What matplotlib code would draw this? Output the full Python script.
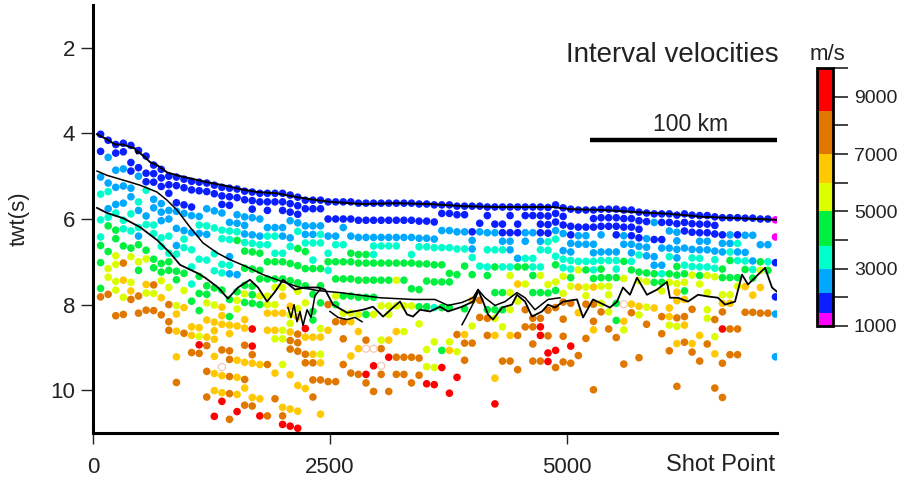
import numpy as np
import matplotlib
matplotlib.use("Agg")
import matplotlib.pyplot as plt
from matplotlib.colors import ListedColormap, BoundaryNorm
from matplotlib.cm import ScalarMappable

plt.rcParams['font.family'] = ['Liberation Sans', 'DejaVu Sans']

# ---------------- data ----------------
# velocity-analysis locations (shot points) and twt of first pick in each
shot_points = np.arange(80, 7201, 80)
column_top_twt = [
    4.02, 4.16, 4.26, 4.23, 4.28, 4.40, 4.53, 4.74, 4.84, 5.00,
    5.02, 5.07, 5.12, 5.14, 5.16, 5.21, 5.26, 5.28, 5.30, 5.35,
    5.37, 5.40, 5.40, 5.40, 5.40, 5.44, 5.49, 5.56, 5.56, 5.56,
    5.60, 5.60, 5.60, 5.60, 5.63, 5.63, 5.63, 5.63, 5.63, 5.63,
    5.63, 5.63, 5.65, 5.65, 5.67, 5.67, 5.67, 5.70, 5.70, 5.70,
    5.70, 5.72, 5.72, 5.72, 5.72, 5.72, 5.72, 5.72, 5.72, 5.73,
    5.67, 5.74, 5.77, 5.79, 5.79, 5.79, 5.77, 5.77, 5.77, 5.79,
    5.79, 5.84, 5.86, 5.88, 5.88, 5.88, 5.91, 5.88, 5.91, 5.92,
    5.92, 5.95, 5.97, 5.97, 5.97, 5.98, 5.98, 6.00, 6.00, 6.02,
]
# picks every 0.2 s below the first one; one letter per pick = velocity class
# m<1450 b<2150 l<3000 c<3800 g<5000 y<6000 o<7000 O<8500 r>8500, w = no value, . = no pick
column_codes = [
    "b.b..l.c..c.cg.g..gO", "b.l..lc.lcg..g.yy.O", "bb.l.l.lc.gg.yy.yy..O",
    "bb.l.l.l.cc.g.O.o.y.O", "b.bb.ll.c.c.gy..yoO", "b.bl..cl.clg.yg..O.O",
    "b.bbc..lc..gy..oy.O", "bbb.ll.cc..gg.Oy.O", "bbb.lll.cc.ggy.o.O",
    "bbb.ll.c.cgg.y.O.OO", "bb.bl.l.lc.gg..yo.o..o..O", "bb.bl.lcc..g.y.o..O",
    "bb.bl.l.c.c.c.g..oo.O", "bb..lcl..c.g.g.g.oyrO", "bb.l.cl..c..ggy.o.oO..O..O",
    "bb.l.c..c.c.g.y.ooo.o.o.o..r", "bbbl.cc..cc.g.ooo..O.wo.or",
    "bbb.lcc.lcl..g.goo.OO.O.O..O", "bb.llcg...l.gyy.o...o.o.o.r",
    "bb.lllcg.g.gyg.oo.O.o.Oo.O", "bbbl.lcg.g.ggg..r.rOo...oO",
    "bb.l.lcg.gg.yg......o...o.r", "bbb.lcc.g.g.yyo.o...O.....O",
    "bb..lc.cg.gy.yo.oy...o..O", "bbb.ll.cg.gyo.o.yy..y....oOr",
    "bbbl.lc.g.g..oyyoOO..o...o.r", "bbblc.g.g.gy.yo.OOO...o..o.r",
    "bb.llcg.g.g.y..ro.OO..o", "bb.llc.cg..g.gg.o.oO.O.O",
    "bb.lcc..g.g.g..yo.yo.O...o", "b.b.l.cgc...O..o.....O",
    "b.b.lc.g.g.yg.O......O", "b.bl.c.g.g.g.yO.O..O", "b.b.l.gg.g.g.yo...o.O",
    "b.b.l.gg.g.g.y.o.o..O", "b.b.l.gg.g.g.g..Ow..rO", "b.b.lccg.g.g.y...w.r..O",
    "b.b.lc.g.g..y...yO.wO", "b.b.lc.g.g..yy..o.r...O", "b.b.lc.g.y..y..o..O.O",
    "b.b.l..g.g..y..y..O.O", "b.b.l.cg..g.y.....O..O", "b.b.lc.g..g.g.y...O.O",
    "b.b.lc.g.g..g....y.y.r", "b.b.lc.g.g..c...y..y.r", "bb.l.c.g.g..g....g.r",
    "bb.l.c..gg..g...yo....r", "bb.l.c..g......O.y..r", "bb.l.c.g....g..oO.O",
    "b..bllc.g..o..y.O", "b.bl...c...O.O", "bb.l.c.cg...gO.O",
    "b.bl.c.g..g.gy.o....o..r", "b.bblc.c..g.g.y...O", "bb.bll.cy.y.y..o..O",
    "b.bb..lg.o.y...O...O", "bb.ll.cg.y..O.O", "bb.l..ccg.g..OO.O.O",
    "bbbblc.cy.g..Orr..O", "bbbbcc...yg.O..O.rr", "bbblc.cg.yg.O....r.O",
    "bbbl.lccy.yO.O.O..O", "b.bbllccgy.O....r.O", "b.bll.cy.o..o....O",
    "b.bll.cg.yyO...O", "bbb.llccgo.O.Oo......O", "bbbl.lcggy.yO",
    "bbb..lc.gyy.y.O", "bbbb.lccg..g.g.O", "bbbll.g.y..w.oy...O",
    "bbbbllcg...oO", "bbbblc.gy..oy....O", "bb.lll.gy..y.O",
    "bl.b.llgg..o", "bb.bl.lcgy..O.O", "bbl.lc.gy..ooy..O",
    "bbllllggyoo.Oy.o....O", "bbb.l.cgygo.Oo.O", "bbb.lccy...O...oO",
    "bbbllccgy.....o..O", "bbbll.cy.y.yy..O", "bbb.lccy....O.y.o...O",
    "b.bll.gg.yoO.r...O...O", "b.llcg.g.yo..O..O", "b.bclc.gy....O..O",
    "b.l.lcg.o..O", "b.l..lcg.o.O", "b..l.gy.o..O", "b..l.cg....O",
    "m.m..b...b.l....l",
]
pick_step_twt = 0.2
class_velocity = {'m': 1200, 'b': 1800, 'l': 2600, 'c': 3400, 'g': 4400,
                  'y': 5500, 'o': 6500, 'O': 7700, 'r': 9200}

vel_bounds = [1000, 1450, 2150, 3000, 3800, 5000, 6000, 7000, 8500, 10000]
vel_colors = ['#ff00ff', '#0a1eff', '#00a8ff', '#00ffcc', '#00f040',
              '#dcff00', '#ffc800', '#e07800', '#ff0000']

# horizons (shot point, twt)
seafloor_sp = [42, 148, 232, 316, 411, 443, 464, 475, 549, 601, 675, 781, 886, 1023,
               1203, 1371, 1551, 1730, 1941, 2152, 2363, 2500, 2848, 3207, 3555, 3903,
               4262, 4610, 4852, 5032, 5380, 5738, 6086, 6435, 6793, 7216]
seafloor_twt = [4.02, 4.14, 4.26, 4.26, 4.33, 4.35, 4.47, 4.42, 4.56, 4.67, 4.74, 4.91,
                4.98, 5.05, 5.14, 5.21, 5.30, 5.37, 5.40, 5.49, 5.56, 5.60, 5.65, 5.63,
                5.65, 5.70, 5.72, 5.72, 5.72, 5.77, 5.79, 5.84, 5.88, 5.95, 5.98, 6.02]
horizonB_sp = [42, 148, 317, 496, 675, 781, 886, 1023, 1161, 1308, 1445, 1625, 1794,
               1941, 2152, 2363, 2606, 3028, 3376, 3608, 3745, 3893, 4009, 4062, 4136,
               4241, 4347, 4473, 4558, 4663, 4800, 4927]
horizonB_twt = [4.88, 4.98, 5.09, 5.21, 5.37, 5.56, 5.79, 6.19, 6.56, 6.79, 6.95, 7.12,
                7.30, 7.42, 7.58, 7.67, 7.72, 7.84, 7.88, 7.88, 8.02, 7.95, 7.84, 7.65,
                7.84, 8.02, 7.93, 7.72, 7.84, 8.12, 7.88, 7.84]
horizonC_sp = [42, 148, 317, 496, 675, 812, 918, 1097, 1182, 1319, 1424, 1530, 1656,
               1741, 1836, 1920, 2005, 2131, 2237, 2374, 2448, 2532, 2680, 2849, 2954,
               3060, 3165, 3239, 3313, 3376, 3450, 3555, 3661, 3745, 3893, 4009, 4062,
               4115, 4167, 4220, 4315, 4420, 4473, 4558, 4631, 4737, 4800, 4874, 4958,
               5106, 5170, 5275, 5454, 5528, 5591, 5665, 5739, 5844, 5950, 6055, 6087,
               6172, 6277, 6383, 6488, 6594, 6668, 6773, 6847, 6910, 6984, 7090, 7163,
               7216]
horizonC_twt = [5.74, 5.86, 5.98, 6.19, 6.49, 6.79, 7.07, 7.26, 7.37, 7.60, 7.86, 7.60,
                7.42, 7.60, 7.93, 7.70, 7.42, 7.65, 7.60, 7.60, 7.65, 8.00, 8.19, 8.12,
                8.05, 8.28, 8.07, 7.93, 8.23, 8.28, 8.12, 8.16, 8.05, 8.16, 8.05, 7.93,
                7.65, 7.93, 8.23, 8.35, 8.07, 8.00, 7.77, 7.93, 8.28, 8.16, 8.00, 8.07,
                7.93, 7.88, 8.30, 7.88, 8.07, 7.93, 7.60, 7.77, 7.37, 7.77, 7.65, 7.47,
                7.84, 7.84, 7.93, 7.77, 7.81, 7.84, 8.00, 7.93, 7.30, 7.53, 7.37, 7.14,
                7.60, 7.70]
basement_picks = [
    ([2057, 2089, 2121, 2152, 2184, 2216, 2258, 2300, 2342, 2395],
     [8.07, 8.30, 8.00, 8.40, 8.16, 8.49, 8.12, 8.30, 7.79, 7.65]),
    ([2500, 2585, 2680, 2764, 2838], [8.16, 8.30, 8.35, 8.30, 8.40]),
    ([3893, 3935, 3977, 4020, 4062], [8.47, 8.30, 8.12, 7.93, 7.70]),
]
scale_bar_sp = [5243, 7216]
scale_bar_twt = 4.16

# ---------------- figure ----------------
W, H = 911, 482
fig = plt.figure(figsize=(W / 100, H / 100), dpi=100)
ax = fig.add_axes([93 / W, 1 - 433 / H, (777 - 93) / W, (433 - 5) / H])

cmap = ListedColormap(vel_colors)
norm = BoundaryNorm(vel_bounds, cmap.N)

xs, ts, vs, hx, ht = [], [], [], [], []
for sp, top, codes in zip(shot_points, column_top_twt, column_codes):
    for k, ch in enumerate(codes):
        if ch == '.':
            continue
        t = top + pick_step_twt * k
        if ch == 'w':
            hx.append(sp); ht.append(t)
            continue
        xs.append(sp); ts.append(t); vs.append(class_velocity[ch])

ax.scatter(xs, ts, c=vs, cmap=cmap, norm=norm, s=30, linewidths=0, zorder=2)
ax.scatter(hx, ht, s=26, facecolors='none', edgecolors='#f2c2ac', linewidths=0.8, zorder=2)

ax.plot(seafloor_sp, seafloor_twt, color='black', lw=1.4, zorder=3)
ax.plot(horizonB_sp, horizonB_twt, color='black', lw=1.1, zorder=3)
ax.plot(horizonC_sp, horizonC_twt, color='black', lw=1.3, zorder=3)
for bsp, btwt in basement_picks:
    ax.plot(bsp, btwt, color='black', lw=1.1, zorder=3)

ax.set_xlim(0, 7216)
ax.set_ylim(11, 1)
for s in ['top', 'right']:
    ax.spines[s].set_visible(False)
for s in ['left', 'bottom']:
    ax.spines[s].set_linewidth(2.2)
ax.set_yticks([2, 4, 6, 8, 10])
ax.set_xticks([0, 2500, 5000])
ax.tick_params(axis='y', length=9, width=1, pad=4, labelsize=16, colors='#222222')
ax.tick_params(axis='x', length=8, width=1, pad=9, labelsize=16, colors='#222222')
ax.set_ylabel('twt(s)', fontsize=16, color='#222222')
ax.yaxis.set_label_coords((30 - 93) / 684, 0.5)

ax.text(0.997, -0.075, 'Shot Point', transform=ax.transAxes, ha='right', va='center',
        fontsize=17, color='#222222')
ax.text(0.847, 0.883, 'Interval velocities', transform=ax.transAxes, ha='center',
        va='center', fontsize=20, color='#222222')
ax.plot(scale_bar_sp, [scale_bar_twt, scale_bar_twt], color='black', lw=3.2,
        clip_on=False, solid_capstyle='butt', zorder=4)
ax.text(0.873, 0.72, '100 km', transform=ax.transAxes, ha='center', va='center',
        fontsize=16.5, color='#222222')

# colour bar
cax = fig.add_axes([817 / W, 1 - 326 / H, 16 / W, (326 - 68) / H])
cb = fig.colorbar(ScalarMappable(norm=norm, cmap=cmap), cax=cax, spacing='proportional',
                  ticks=list(range(1000, 10001, 1000)))
cb.set_ticklabels([str(v) if v % 2000 == 1000 else '' for v in range(1000, 10001, 1000)])
cb.outline.set_linewidth(2)
cax.tick_params(length=11, width=1.2, pad=4, labelsize=14, colors='#222222')
cax.minorticks_off()
fig.text(827 / W, 1 - 55 / H, 'm/s', ha='center', va='center', fontsize=16, color='#222222')

fig.savefig('out.png', dpi=100)
